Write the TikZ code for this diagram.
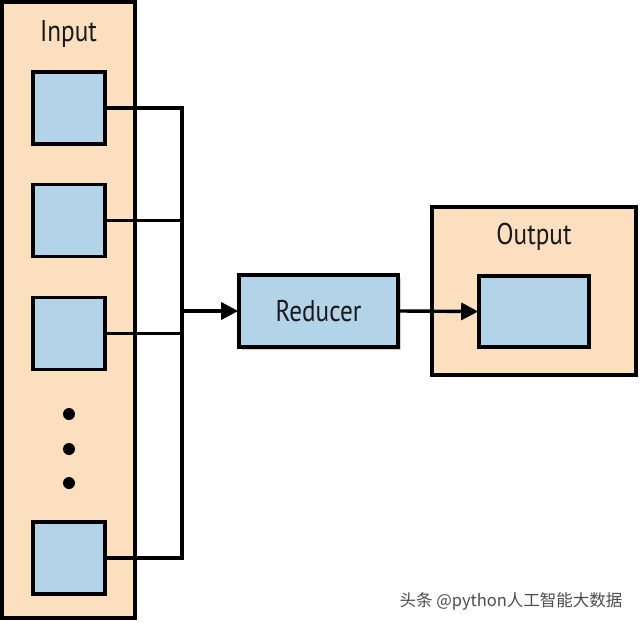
\documentclass[tikz,border=0pt]{standalone}
\usepackage{fontspec}
\setmainfont{PT Sans}[FakeStretch=0.84]
\newfontfamily\cjk{Noto Sans CJK SC}
\usetikzlibrary{arrows.meta,shadows}
\definecolor{peach}{HTML}{FCDFBF}
\definecolor{lblue}{HTML}{B3D3E8}
\tikzset{
  container/.style={draw=black, line width=3.6pt, fill=peach, inner sep=0pt},
  item/.style={draw=black, line width=3.6pt, fill=lblue, inner sep=0pt},
  wire/.style={draw=black, line width=3.4pt},
  arr/.style={wire, -{Triangle[length=17pt,width=17pt]}, shorten >=-1pt},
  lbl/.style={font=\fontsize{30}{32}\selectfont, text=black!90},
  dot/.style={circle, fill=black, inner sep=0pt, minimum size=12pt},
}
\begin{document}
\begin{tikzpicture}[x=1pt,y=-1pt]
\useasboundingbox[fill=white] (0,0) rectangle (640,623);
% input column
\node[container, minimum width=133pt, minimum height=616pt] (input) at (68.5,310) {};
\node[lbl] (inlbl) at (68.5,34) {Input};
\node[item, minimum width=72pt, minimum height=72pt] (b1) at (69,108) {};
\node[item, minimum width=72pt, minimum height=72pt] (b2) at (69,220.5) {};
\node[item, minimum width=72pt, minimum height=72pt] (b3) at (69,333.5) {};
\node[item, minimum width=72pt, minimum height=72pt] (b4) at (69,558) {};
\node[dot] (d1) at (69,414) {};
\node[dot] (d2) at (69,449) {};
\node[dot] (d3) at (69,483) {};
% bus
\coordinate (bt) at (182,108);
\coordinate (bb) at (182,558);
\coordinate (bm) at (182,311);
\draw[wire, line join=miter] (b1.east) -- (bt) -- (bb) -- (b4.east);
\draw[wire] (b2.east) -- (182,220.5);
\draw[wire] (b3.east) -- (182,333.5);
% reducer
\node[item, minimum width=159pt, minimum height=72pt, drop shadow={opacity=0.35, shadow xshift=3pt, shadow yshift=-3pt}, lbl] (red) at (318.5,311) {Reducer};
\draw[arr] (bm) -- (red.west);
% output
\node[container, minimum width=204pt, minimum height=168pt] (out) at (534,291) {};
\node[lbl] (outlbl) at (534,237) {Output};
\node[item, minimum width=110pt, minimum height=71pt] (ob) at (534,311.5) {};
\draw[arr] (red.east) -- (ob.west);
% watermark
\node[font=\cjk\fontsize{16.5}{18}\selectfont, text=black!70, anchor=east] (wm) at (626,601) {头条 @python人工智能大数据};
\end{tikzpicture}
\end{document}
